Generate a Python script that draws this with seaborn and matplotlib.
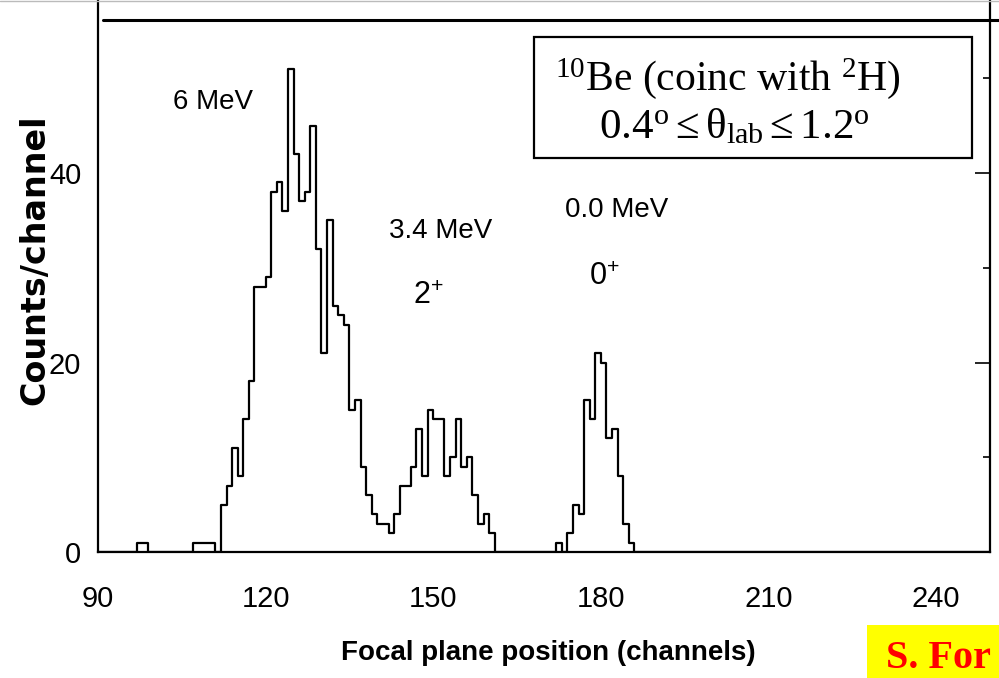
import numpy as np
import pandas as pd
import matplotlib
matplotlib.use("Agg")
import matplotlib.pyplot as plt
import seaborn as sns
from matplotlib.ticker import MultipleLocator
from matplotlib.patches import Rectangle
from matplotlib.lines import Line2D

# ---- data (counts per channel, non-zero bins) ----
channel = [97, 98, 107, 108, 109, 110,
           112, 113, 114, 115, 116, 117, 118, 119, 120, 121, 122, 123, 124,
           125, 126, 127, 128, 129, 130, 131, 132, 133, 134, 135, 136, 137,
           138, 139, 140, 141, 142, 143, 144, 145, 146, 147, 148, 149, 150,
           151, 152, 153, 154, 155, 156, 157, 158, 159, 160,
           172, 174, 175, 176, 177, 178, 179, 180, 181, 182, 183, 184, 185]
counts = [1, 1, 1, 1, 1, 1,
          5, 7, 11, 8, 14, 18, 28, 28, 29, 38, 39, 36, 51,
          42, 37, 38, 45, 32, 21, 35, 26, 25, 24, 15, 16, 9,
          6, 4, 3, 3, 2, 4, 7, 7, 9, 13, 8, 15, 14,
          14, 8, 10, 14, 9, 10, 6, 3, 4, 2,
          1, 2, 5, 4, 16, 14, 21, 20, 12, 13, 8, 3, 1]

x_ticks = [90, 120, 150, 180, 210, 240]
y_ticks = [0, 20, 40]

peak_labels = ["6 MeV", "3.4 MeV", "0.0 MeV"]
spin_labels = [r"2$^{\mathsf{+}}$", r"0$^{\mathsf{+}}$"]

df = pd.DataFrame({"channel": channel, "counts": counts})

sns.set_style("white")
plt.rcParams["font.family"] = ["Liberation Sans", "DejaVu Sans"]
plt.rcParams["mathtext.fontset"] = "custom"
plt.rcParams["mathtext.rm"] = "Liberation Serif"
plt.rcParams["mathtext.it"] = "Liberation Serif:italic"
plt.rcParams["mathtext.sf"] = "Liberation Sans"
for key in ["text.color", "axes.labelcolor", "xtick.color", "ytick.color",
            "axes.edgecolor"]:
    plt.rcParams[key] = "black"

W, H = 999, 678
fig = plt.figure(figsize=(W / 100, H / 100), dpi=100)
fig.patch.set_facecolor("white")

x0, x1, yb, yt = 98, 990, 552, 0
ax = fig.add_axes([x0 / W, 1 - yb / H, (x1 - x0) / W, (yb - yt) / H])

sns.histplot(data=df, x="channel", weights="counts", binwidth=1,
             binrange=(90, 250), element="step", fill=False, color="black",
             linewidth=1.6, ax=ax)

ax.set_xlim(90, 249.65)
ax.set_ylim(0, 58.26)

ax.xaxis.set_minor_locator(MultipleLocator(10))
ax.yaxis.set_minor_locator(MultipleLocator(10))
ax.set_xticks(x_ticks)
ax.set_yticks(y_ticks)
ax.set_xticklabels([str(v) for v in x_ticks])
ax.set_yticklabels([str(v) for v in y_ticks])

ax.tick_params(which="both", direction="in", right=True, top=False,
               color="black", width=1.2)
ax.tick_params(which="major", length=11)
ax.tick_params(which="minor", length=5)
ax.tick_params(axis="x", which="major", labelsize=21, pad=24)
ax.tick_params(axis="y", which="major", labelsize=21, pad=12)

for side in ["left", "right", "bottom"]:
    ax.spines[side].set_linewidth(1.6)
    ax.spines[side].set_color("black")
ax.spines["top"].set_visible(False)

ax.set_xlabel("Focal plane position (channels)", fontsize=20, fontweight="bold",
              va="center")
ax.xaxis.set_label_coords(0.505, -0.183)
ax.set_ylabel("Counts/channel", fontsize=24, fontweight="bold",
              family=["DejaVu Sans"], va="center", ha="center")
ax.yaxis.set_label_coords(-0.0706, 0.529)

# top horizontal line
ax.axhline(56.15, xmin=(103 - x0) / (x1 - x0), xmax=(W - x0) / (x1 - x0),
           color="black", lw=2.2, clip_on=False)

# peak labels
ax.text(110.6, 47.5, peak_labels[0], fontsize=20, ha="center", va="center")
ax.text(151.4, 33.9, peak_labels[1], fontsize=20, ha="center", va="center")
ax.text(182.9, 36.1, peak_labels[2], fontsize=20, ha="center", va="center")
ax.text(149.1, 27.0, spin_labels[0], fontsize=22, ha="center", va="center")
ax.text(180.6, 29.0, spin_labels[1], fontsize=22, ha="center", va="center")

# framed label box
fig.patches.append(Rectangle((534 / W, 1 - 158 / H), 438 / W, 121 / H,
                             transform=fig.transFigure, facecolor="white",
                             edgecolor="black", lw=1.6, zorder=5))
fig.text(728 / W, 1 - 90 / H, r"$^{10}$Be (coinc with $^{2}$H)",
         family=["Liberation Serif"], fontsize=30, ha="center", va="baseline",
         zorder=6)
fig.text(734 / W, 1 - 138 / H,
         r"$0.4^{\mathrm{o}}\leq\mathrm{\theta}_{\mathrm{lab}}\leq1.2^{\mathrm{o}}$",
         fontsize=31, ha="center", va="baseline", zorder=6)

# yellow author tag
fig.patches.append(Rectangle((867 / W, 0), (W - 867) / W, (H - 625) / H,
                             transform=fig.transFigure, facecolor="#FFFF00",
                             edgecolor="none", zorder=5))
fig.text(886 / W, 1 / H, "S. For", family=["Liberation Serif"],
         fontsize=29, fontweight="bold", color="#FF0000", ha="left",
         va="bottom", zorder=6)

# faint border at very top
fig.lines.append(Line2D([0, 1], [1 - 0.5 / H, 1 - 0.5 / H],
                        transform=fig.transFigure, color="#bbbbbb", lw=1))

fig.savefig("out.png", dpi=100)
